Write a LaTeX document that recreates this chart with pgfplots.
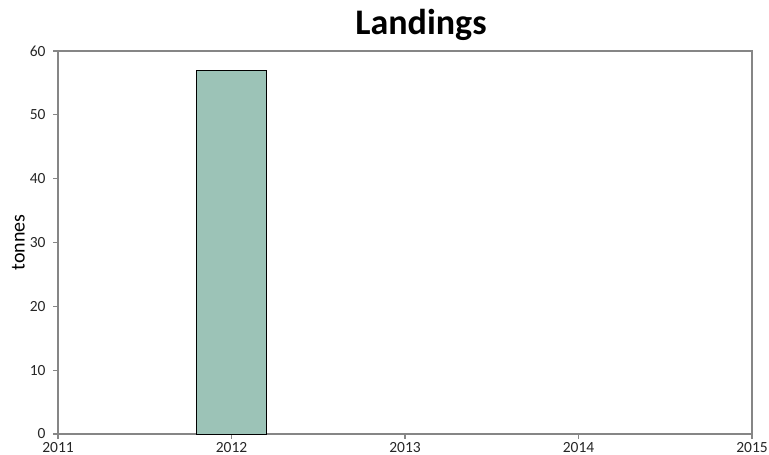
\documentclass[border=0pt]{standalone}
\usepackage{fontspec}
\setmainfont{Carlito}
\usepackage{pgfplots}
\pgfplotsset{compat=1.18}
\definecolor{barfill}{HTML}{9CC3B7}
\definecolor{axisgray}{HTML}{868686}
\begin{document}
\begin{tikzpicture}
\path[use as bounding box] (0pt,0pt) rectangle (769pt,455pt);
\begin{axis}[
    at={(58pt,21pt)}, anchor=south west,
    scale only axis, width=694pt, height=383pt,
    xmin=2011, xmax=2015, ymin=0, ymax=60,
    xtick={2011,2012,2013,2014,2015},
    ytick={0,10,20,30,40,50,60},
    x tick label style={/pgf/number format/1000 sep={}},
    y tick label style={xshift=-4pt},
    /pgf/number format/assume math mode=true,
    tick label style={font=\fontsize{15.5}{18}\selectfont, text=black!85},
    axis line style={axisgray, line width=1.3pt},
    tick style={axisgray, line width=1.3pt},
    tick align=outside, major tick length=5pt,
    xtick pos=bottom, ytick pos=left,
    title={\textbf{Landings}},
    title style={font=\fontsize{36}{40}\selectfont, at={(axis description cs:0.523,1)},
      anchor=base, yshift=11pt},
    clip=false,
]
\addplot[ybar, bar width=0.4, fill=barfill, draw=black, line width=0.8pt]
  coordinates {(2012,57)};
\node[rotate=90, font=\fontsize{20}{24}\selectfont]
  at ([xshift=-39.5pt]axis description cs:0,0.5) {tonnes};
\end{axis}
\end{tikzpicture}
\end{document}
